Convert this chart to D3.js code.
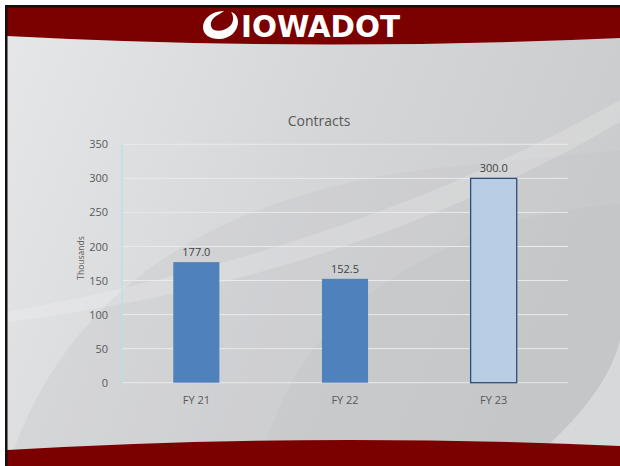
<!DOCTYPE html>
<html>
<head>
<meta charset="utf-8">
<script src="https://cdn.jsdelivr.net/npm/d3@7"></script>
<style>
  body { margin: 0; background: #fff; }
  svg { display: block; font-family: "Open Sans", "Noto Sans", sans-serif; }
</style>
</head>
<body>
<div id="chart-area"></div>
<script>
/***** Data *****/
const categories = ["FY 21", "FY 22", "FY 23"];
const values     = [177.0, 152.5, 300.0];
const yTicks     = [0, 50, 100, 150, 200, 250, 300, 350];
const chartTitle = "Contracts";
const yLabel     = "Thousands";

/***** Sizes *****/
const W = 620, H = 466;
const plot = { left: 122, right: 568, top: 144.3, bottom: 382.7 };

const svg = d3.select("#chart-area").append("svg")
  .attr("width", W).attr("height", H);

/***** Slide background *****/
const defs = svg.append("defs");
const bg = defs.append("linearGradient").attr("id", "bg")
  .attr("x1", 0).attr("y1", 0).attr("x2", 1).attr("y2", 0.3);
bg.append("stop").attr("offset", 0).attr("stop-color", "#e6e7e9");
bg.append("stop").attr("offset", 0.55).attr("stop-color", "#d5d6d8");
bg.append("stop").attr("offset", 1).attr("stop-color", "#cbcccd");

svg.append("rect").attr("x", 7).attr("y", 7).attr("width", W - 7).attr("height", H - 7)
  .attr("fill", "url(#bg)");

// soft swooshes
svg.append("path")
  .attr("d", "M7,470 C60,300 200,200 420,170 L620,150 L620,470 Z")
  .attr("fill", "#c4c5c7").attr("opacity", 0.3);
svg.append("path")
  .attr("d", "M7,312 C150,285 380,235 620,100 L620,122 C400,250 180,300 7,322 Z")
  .attr("fill", "#ffffff").attr("opacity", 0.18);
svg.append("path")
  .attr("d", "M260,470 C280,360 360,270 520,220 C560,210 600,205 620,204 L620,470 Z")
  .attr("fill", "#bdbec0").attr("opacity", 0.25);
svg.append("path")
  .attr("d", "M520,470 C580,420 610,380 620,340 L620,470 Z")
  .attr("fill", "#e8e9ea").attr("opacity", 0.5);

// header band
svg.append("path")
  .attr("d", "M7,7 L620,7 L620,38 Q310,52 7,36 Z")
  .attr("fill", "#7b0000");
// footer band
svg.append("path")
  .attr("d", "M7,450 Q310,432 620,446 L620,466 L7,466 Z")
  .attr("fill", "#7b0000");

// frame lines
svg.append("rect").attr("x", 5).attr("y", 5).attr("width", W - 5).attr("height", 2.5).attr("fill", "#111");
svg.append("rect").attr("x", 5).attr("y", 5).attr("width", 2.5).attr("height", H - 5).attr("fill", "#111");

// logo
const logo = svg.append("g").attr("fill", "#fff");
logo.append("path")
  .attr("d", "M224,11 C210,11 203,20 203,27 C203,35 210,39 219,39 C230,39 238,31 238,22 " +
             "C238,17 235,13 231,12 C234,16 234,22 230,26 C226,30 219,32 214,30 " +
             "C209,27 210,20 216,16 C219,14 222,13 224,11 Z");
logo.append("text")
  .attr("x", 241).attr("y", 37)
  .attr("font-family", "'DejaVu Sans Condensed', 'DejaVu Sans', sans-serif")
  .attr("font-weight", "bold").attr("font-size", 30)
  .attr("textLength", 159).attr("lengthAdjust", "spacingAndGlyphs")
  .text("IOWADOT");

/***** Scales *****/
const x = d3.scaleBand()
  .domain(categories)
  .range([plot.left, plot.right])
  .paddingInner(0.69).paddingOuter(0.345);

const y = d3.scaleLinear()
  .domain([0, 350])
  .range([plot.bottom, plot.top]);

/***** Gridlines *****/
svg.append("g")
  .selectAll("line").data(yTicks).join("line")
  .attr("x1", plot.left).attr("x2", plot.right)
  .attr("y1", d => y(d)).attr("y2", d => y(d))
  .attr("stroke", "#e9eaeb").attr("stroke-width", 1);

// vertical axis line
svg.append("line")
  .attr("x1", plot.left).attr("x2", plot.left)
  .attr("y1", y(350)).attr("y2", y(0))
  .attr("stroke", "#a8e2ec").attr("stroke-width", 1);

/***** Y axis labels *****/
const yAxis = svg.append("g")
  .attr("transform", `translate(${plot.left - 14},0)`)
  .call(d3.axisLeft(y).tickValues(yTicks).tickSize(0).tickPadding(0));
yAxis.select(".domain").remove();
yAxis.selectAll("text")
  .attr("font-family", "'Open Sans', sans-serif")
  .attr("font-size", 11).attr("fill", "#595959");

/***** X axis labels *****/
const xAxis = svg.append("g")
  .attr("transform", `translate(0,${plot.bottom + 13})`)
  .call(d3.axisBottom(x).tickSize(0).tickPadding(0));
xAxis.select(".domain").remove();
xAxis.selectAll("text")
  .attr("font-family", "'Open Sans', sans-serif")
  .attr("font-size", 11).attr("fill", "#595959");

/***** Bars *****/
svg.append("g")
  .selectAll("rect").data(values).join("rect")
  .attr("x", (d, i) => x(categories[i]))
  .attr("y", d => y(d))
  .attr("width", x.bandwidth())
  .attr("height", d => y(0) - y(d))
  .attr("fill", (d, i) => i === 2 ? "#b9cde5" : "#4f81bd")
  .attr("stroke", (d, i) => i === 2 ? "#2c4d7c" : "none")
  .attr("stroke-width", 1.3);

/***** Data labels *****/
svg.append("g")
  .selectAll("text").data(values).join("text")
  .attr("x", (d, i) => x(categories[i]) + x.bandwidth() / 2)
  .attr("y", d => y(d) - 6)
  .attr("text-anchor", "middle")
  .attr("font-size", 11).attr("fill", "#404040")
  .text(d => d.toFixed(1));

/***** Titles *****/
svg.append("text")
  .attr("x", 319).attr("y", 126)
  .attr("text-anchor", "middle")
  .attr("font-size", 14).attr("fill", "#595959")
  .text(chartTitle);

svg.append("text")
  .attr("transform", "translate(84,258) rotate(-90)")
  .attr("text-anchor", "middle")
  .attr("font-size", 8.5).attr("fill", "#595959")
  .text(yLabel);
</script>
</body>
</html>
